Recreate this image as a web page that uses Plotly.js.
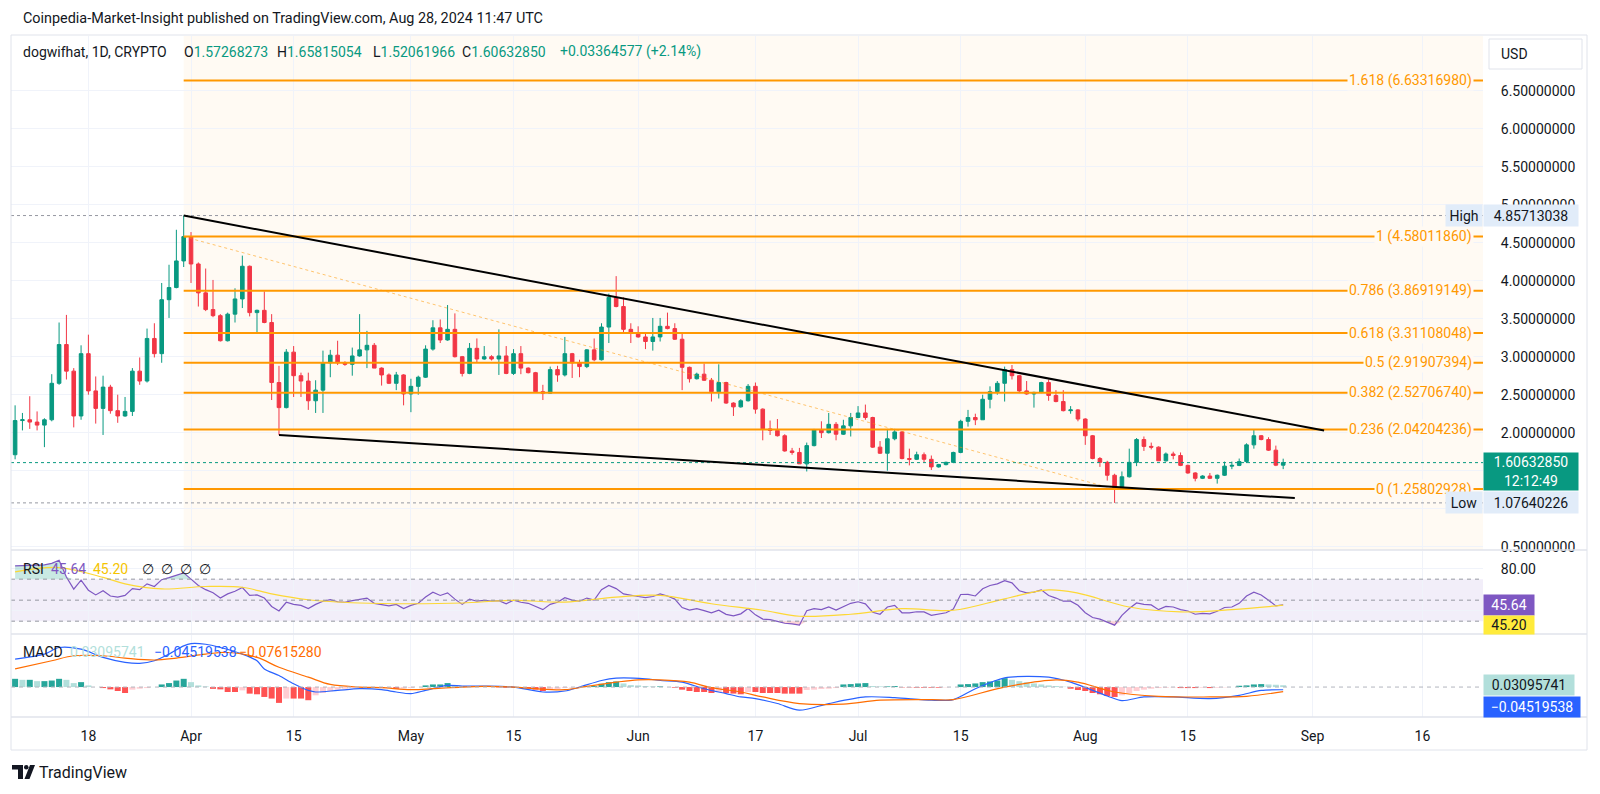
<!DOCTYPE html>
<html><head><meta charset="utf-8">
<script src="https://cdn.plot.ly/plotly-3.0.1.min.js"></script>
<style>html,body{margin:0;padding:0;background:#fff}#chart{width:1600px;height:794px}</style>
</head><body><div id="chart"></div>
<script>
// ---------------- DATA ----------------
const firstDay = [2024, 2, 8]; // 8 Mar 2024, daily bars to 28 Aug 2024
const openPrice = [
1.71,2.16,2.17,2.14,2.10,2.17,2.65,3.16,2.81,2.22,3.04,2.55,2.32,2.60,2.29,2.22,2.28,2.81,2.68,3.24,3.04,3.75,3.91,4.26,
4.58,4.22,3.84,3.62,3.54,3.21,3.56,3.76,4.19,3.58,3.61,3.45,2.66,2.33,3.06,2.75,2.68,2.42,2.56,2.92,3.02,2.92,2.90,3.01,3.09,3.15,2.85,2.76,2.65,2.76,
2.51,2.61,2.73,3.10,3.38,3.22,3.36,3.00,2.78,3.11,2.97,3.00,2.97,3.01,2.78,3.04,2.85,2.79,2.54,2.52,2.83,2.76,3.04,2.92,2.87,3.09,2.96,3.39,3.78,3.66,3.36,
3.31,3.26,3.20,3.26,3.40,3.37,3.23,2.86,2.71,2.77,2.69,2.54,2.66,2.39,2.34,2.42,2.61,2.31,2.05,2.03,1.96,1.76,1.74,1.59,1.83,2.04,2.00,2.11,1.98,2.09,
2.20,2.26,2.20,1.81,1.73,1.92,2.01,1.66,1.65,1.71,1.65,1.55,1.58,1.61,1.74,2.15,2.20,2.17,2.44,2.54,2.65,2.83,2.75,2.55,2.51,2.53,2.66,2.49,2.41,2.29,2.30,
2.18,1.96,1.66,1.61,1.44,1.27,1.42,1.61,1.91,1.82,1.81,1.63,1.72,1.70,1.57,1.47,1.40,1.43,1.40,1.44,1.56,1.57,1.62,1.84,1.96,1.91,1.77,1.57268273];
const highPrice = [
2.36,2.26,2.48,2.28,2.19,2.77,3.45,3.55,2.85,3.15,3.29,2.74,2.75,2.63,2.50,2.47,2.85,2.99,3.37,3.44,3.97,4.21,4.67,4.85713038,
4.64,4.24,4.16,4.01,3.56,3.58,3.90,4.33,4.20,3.62,3.86,3.56,2.88,3.10,3.14,2.79,2.79,2.69,3.08,3.09,3.21,2.94,3.12,3.56,3.34,3.18,2.86,2.78,2.80,2.77,
2.71,2.75,3.15,3.48,3.49,3.68,3.57,3.01,3.18,3.24,3.14,3.02,3.36,3.14,3.10,3.14,2.86,2.80,2.63,2.87,2.88,3.26,3.05,2.96,3.10,3.24,3.44,3.83,4.06,3.78,3.44,
3.40,3.30,3.51,3.51,3.58,3.44,3.30,2.87,2.79,2.91,2.72,2.90,2.67,2.40,2.44,2.64,2.66,2.32,2.16,2.18,1.98,1.80,1.80,1.87,2.05,2.15,2.26,2.14,2.17,2.26,
2.35,2.37,2.21,1.89,2.05,2.05,2.02,1.79,1.75,1.74,1.70,1.59,1.62,1.75,2.17,2.30,2.25,2.50,2.61,2.68,2.87,2.89,2.76,2.68,2.54,2.67,2.70,2.56,2.56,2.35,2.31,
2.19,1.97,1.68,1.63,1.46,1.49,1.79,1.93,1.95,1.87,1.82,1.74,1.75,1.74,1.58,1.48,1.44,1.47,1.45,1.62,1.62,1.66,1.86,2.04,1.97,1.94,1.83,1.65815054];
const lowPrice = [
1.65,2.03,2.05,2.03,1.81,2.15,2.63,2.70,2.07,2.17,2.50,2.12,1.97,2.25,2.13,2.21,2.22,2.63,2.66,2.99,2.92,3.51,3.90,4.18,
3.97,3.66,3.60,3.52,3.20,3.20,3.45,3.64,3.53,3.31,3.44,2.43,1.97,2.32,2.47,2.47,2.30,2.26,2.26,2.73,2.89,2.88,2.75,3.00,2.85,2.85,2.62,2.64,2.56,2.36,
2.27,2.50,2.72,3.08,3.18,3.21,2.99,2.74,2.77,2.93,2.96,2.95,2.76,2.77,2.76,2.77,2.78,2.53,2.43,2.51,2.67,2.74,2.72,2.73,2.85,2.94,2.95,3.18,3.65,3.32,3.18,
3.25,3.10,3.08,3.20,3.36,3.22,2.56,2.66,2.70,2.68,2.41,2.45,2.38,2.22,2.33,2.41,2.25,1.90,1.97,1.95,1.75,1.71,1.59,1.49,1.82,1.93,1.99,1.90,1.97,1.95,
2.19,2.17,1.80,1.72,1.50,1.90,1.65,1.57,1.64,1.61,1.51,1.54,1.57,1.60,1.73,2.08,2.10,2.17,2.32,2.50,2.41,2.70,2.52,2.50,2.33,2.52,2.42,2.40,2.28,2.25,2.15,
1.84,1.65,1.55,1.37,1.07640226,1.26,1.41,1.56,1.76,1.78,1.63,1.62,1.65,1.56,1.46,1.36,1.39,1.39,1.33,1.43,1.52,1.56,1.60,1.79,1.90,1.76,1.56,1.52061966];
const closePrice = [
2.16,2.17,2.14,2.10,2.17,2.65,3.16,2.81,2.22,3.04,2.55,2.32,2.60,2.29,2.22,2.28,2.81,2.68,3.24,3.04,3.75,3.91,4.26,4.58,
4.22,3.84,3.62,3.54,3.21,3.56,3.76,4.19,3.58,3.61,3.45,2.66,2.33,3.06,2.75,2.68,2.42,2.56,2.92,3.02,2.92,2.90,3.01,3.09,3.15,2.85,2.76,2.65,2.76,2.51,
2.61,2.73,3.10,3.38,3.22,3.36,3.00,2.78,3.11,2.97,3.00,2.97,3.01,2.78,3.04,2.85,2.79,2.54,2.52,2.83,2.76,3.04,2.92,2.87,3.09,2.96,3.39,3.78,3.66,3.36,3.31,
3.26,3.20,3.26,3.40,3.37,3.23,2.86,2.71,2.77,2.69,2.54,2.66,2.39,2.34,2.42,2.61,2.31,2.05,2.03,1.96,1.76,1.74,1.59,1.83,2.04,2.00,2.11,1.98,2.09,2.20,
2.26,2.20,1.81,1.73,1.92,2.01,1.66,1.65,1.71,1.65,1.55,1.58,1.61,1.74,2.15,2.20,2.17,2.44,2.54,2.65,2.83,2.75,2.55,2.51,2.53,2.66,2.49,2.41,2.29,2.30,2.18,
1.96,1.66,1.61,1.44,1.27,1.42,1.61,1.91,1.82,1.81,1.63,1.72,1.70,1.57,1.47,1.40,1.43,1.40,1.44,1.56,1.57,1.62,1.84,1.96,1.91,1.77,1.5727,1.60632850];

const rsiValues = [
82.7,83,83.5,84,83.6,85,88,72,60.5,69,59.5,55,59,54,53,54.5,61,60,65.5,63,69.5,71.5,74,76,
70,64,60,57,52,56,58.5,62,54.5,55,52,44,39.7,48,46,45,42,46,49,50.5,48.5,48,49.5,50.5,52,47,46,44.5,46,42,
45,47,53,57.6,54.5,57,51,46,51,49,49.8,49,49.5,46.5,50,48,47,44,41,46,48,52.3,50,49,52,50,60,64,61,56,54.5,
53.5,52.5,53.5,56,54,51,43,40.5,42,40,38,40.5,36.5,35,37,42,36,32,31.5,29.8,28,27.5,26.2,40,42,41,43.5,40.5,44,47,
48.5,46.5,38.5,36.6,43.5,45,38,38,39,38.8,35.6,36.5,38,41.5,55.4,55.5,54,60.8,64,65.5,68.6,66.5,59,57,57.6,59.8,54.5,52,49,49.1,45.1,
38,33.5,32,29,26.2,35.6,42,47.3,46,45.5,41,44,43.5,41,39.7,36.6,37.5,37,39.5,43,43.5,47,54,57.6,55,50,44.5,45.64];
const rsiMaBar = [0,6,12,15,20,26,31,35,40,47,54,61,68,75,82,88,95,102,107,114,121,128,135,141,145,152,159,166,173];
const rsiMaValues = [77,81,71.7,65.5,60.7,63,62.3,56,50.4,47.3,46.6,47.3,49.8,48.2,52.9,54.5,46.6,40.4,34.7,36.6,41.9,40.4,51.3,59.8,56.7,43.5,38.8,41,45.20];

const macdBar = [0,4,6,9,12,15,17,19,21,23,24,26,28,31,33,34,36,38,40,41,44,47,50,52,54,56,59,61,64,68,72,75,77,80,82,86,88,91,94,97,99,101,104,107,111,116,120,125,128,131,135,141,144,149,151,154,158,163,167,170,173];
const macdValues = [0.472,0.556,0.667,0.639,0.50,0.417,0.40,0.444,0.556,0.694,0.733,0.722,0.667,0.556,0.444,0.306,0.194,0.056,-0.056,-0.083,-0.056,-0.028,-0.044,-0.083,-0.111,-0.056,0.028,0.017,0.017,0,-0.083,-0.067,0,0.111,0.15,0.139,0.111,0.083,-0.028,-0.111,-0.167,-0.194,-0.278,-0.389,-0.278,-0.167,-0.178,-0.222,-0.211,-0.028,0.156,0.167,0.083,-0.15,-0.23,-0.167,-0.167,-0.194,-0.139,-0.056,-0.04519538];
const signalBar = [0,5,8,12,15,19,22,26,29,33,36,40,43,47,50,54,57,61,64,68,71,75,78,82,85,88,92,95,99,102,107,113,118,125,128,135,142,145,150,156,163,168,173];
const signalValues = [0.306,0.444,0.528,0.528,0.489,0.456,0.489,0.556,0.583,0.50,0.333,0.167,0.044,0,-0.011,-0.044,-0.028,0,0.011,0,-0.028,-0.044,0.011,0.083,0.122,0.122,0.083,-0.011,-0.083,-0.167,-0.278,-0.289,-0.222,-0.211,-0.211,0,0.122,0.083,-0.083,-0.156,-0.167,-0.156,-0.0761528];
const histValues = [
0.139,0.122,0.122,0.10,0.10,0.11,0.139,0.122,0.067,0.083,0.028,0.0,-0.017,-0.039,-0.067,-0.10,-0.044,-0.028,-0.017,0.0,0.044,0.067,0.11,0.139,
0.083,0.028,0.011,-0.03,-0.039,-0.083,-0.083,-0.056,-0.111,-0.122,-0.167,-0.194,-0.267,-0.194,-0.194,-0.194,-0.222,-0.139,-0.10,-0.072,-0.044,-0.028,-0.017,-0.011,0.0,-0.011,-0.017,-0.011,-0.028,-0.022,
-0.017,0.0,0.028,0.044,0.044,0.067,0.028,0.017,0.011,0.006,0.0,0.0,-0.006,-0.011,-0.006,0.0,-0.022,-0.044,-0.067,-0.044,-0.033,-0.017,-0.011,0.0,0.011,0.017,0.056,0.083,0.094,0.061,0.033,
0.028,0.017,0.011,0.011,0.0,-0.011,-0.044,-0.067,-0.083,-0.083,-0.10,-0.083,-0.10,-0.11,-0.122,-0.083,-0.083,-0.10,-0.10,-0.10,-0.111,-0.111,-0.111,-0.05,-0.044,-0.033,-0.028,-0.017,0.044,0.05,
0.061,0.067,0.017,0.011,0.011,0.017,-0.006,-0.006,-0.011,-0.011,-0.011,-0.011,-0.006,0.0,0.044,0.05,0.061,0.083,0.094,0.111,0.15,0.122,0.10,0.083,0.061,0.044,0.028,0.017,0.006,-0.028,-0.05,
-0.067,-0.10,-0.122,-0.15,-0.167,-0.139,-0.10,-0.067,-0.044,-0.028,-0.017,-0.011,-0.006,-0.017,-0.017,-0.017,-0.011,-0.017,-0.011,-0.006,0.0,0.022,0.028,0.044,0.05,0.044,0.039,0.03095741];

const fibRatios = ['0','0.236','0.382','0.5','0.618','0.786','1','1.618'];
const fibPrices = [1.25802928,2.04204236,2.52706740,2.91907394,3.31108048,3.86919149,4.58011860,6.63316980];
const fibStartDate = '2024-03-31';
const fibTrendDates = ['2024-03-31','2024-08-05'];
const fibTrendPrices = [4.58011860,1.25802928];
const upperTrendDates = ['2024-03-31','2024-09-02 14:00'];
const upperTrendPrices = [4.85713038,2.03];
const lowerTrendDates = ['2024-04-13','2024-08-29 14:00'];
const lowerTrendPrices = [1.97,1.14];
const highValue = 4.85713038, lowValue = 1.07640226;
const rsiLevels = [70,50,30];
const priceTicks = [0.5,1,1.5,2,2.5,3,3.5,4,4.5,5,5.5,6,6.5];
const hiddenPriceTicks = [1,1.5];      // covered by the Low / last-price boxes
const rsiTicks = [40,80];
const hiddenRsiTicks = [40];          // covered by the RSI value box
const xTickDates = ['2024-03-18','2024-04-01','2024-04-15','2024-05-01','2024-05-15','2024-06-01','2024-06-17','2024-07-01','2024-07-15','2024-08-01','2024-08-15','2024-09-01','2024-09-16'];
const xTickText = ['18','Apr','15','May','15','Jun','17','Jul','15','Aug','15','Sep','16'];
const symbolName = 'dogwifhat, 1D, CRYPTO';
const headerValues = {O:'1.57268273', H:'1.65815054', L:'1.52061966', C:'1.60632850'};
const headerChange = '+0.03364577 (+2.14%)';
const countdown = '12:12:49';

// ---------------- LAYOUT HELPERS ----------------
const dates = closePrice.map((_, i) => new Date(Date.UTC(firstDay[0], firstDay[1], firstDay[2] + i)).toISOString().slice(0, 10));
const L = 11, R = 1483, T = 36, B = 717;
const xp = px => (px - L) / (R - L);
const yp = py => (B - py) / (B - T);
const xRange = ['2024-03-07 10:34', '2024-09-24 06:15'];
const FONT = 'Roboto, "Liberation Sans", sans-serif';
const FS = 14;
const TXT = '#131722';
const GREEN = '#089981', RED = '#F23645';
const CREAM = '#FFFAF3';
const last = closePrice.length - 1;
const fmtMinus = v => (v < 0 ? '−' : '') + Math.abs(v).toFixed(8);

const histColors = histValues.map((h, i) => {
  const p = i > 0 ? histValues[i - 1] : h;
  if (h >= 0) return h >= p ? '#26A69A' : '#B2DFDB';
  return h <= p ? '#FF5252' : '#FFCDD2';
});
const noHover = {hoverinfo: 'skip', showlegend: false};

const traces = [
  Object.assign({type: 'candlestick', x: dates, open: openPrice, high: highPrice, low: lowPrice, close: closePrice,
   xaxis: 'x', yaxis: 'y', whiskerwidth: 0,
   increasing: {line: {color: GREEN, width: 1}, fillcolor: GREEN},
   decreasing: {line: {color: RED, width: 1}, fillcolor: RED}}, noHover),
  // overbought / oversold zone fills of the RSI (clip of the RSI line at the band edges)
  Object.assign({type: 'scatter', mode: 'lines', x: dates, y: dates.map(() => rsiLevels[0]), xaxis: 'x2', yaxis: 'y2', line: {width: 0}}, noHover),
  Object.assign({type: 'scatter', mode: 'lines', x: dates, y: rsiValues.map(v => Math.max(v, rsiLevels[0])), xaxis: 'x2', yaxis: 'y2',
   line: {width: 0}, fill: 'tonexty', fillcolor: 'rgba(8,153,129,0.22)'}, noHover),
  Object.assign({type: 'scatter', mode: 'lines', x: dates, y: dates.map(() => rsiLevels[2]), xaxis: 'x2', yaxis: 'y2', line: {width: 0}}, noHover),
  Object.assign({type: 'scatter', mode: 'lines', x: dates, y: rsiValues.map(v => Math.min(v, rsiLevels[2])), xaxis: 'x2', yaxis: 'y2',
   line: {width: 0}, fill: 'tonexty', fillcolor: 'rgba(242,54,69,0.22)'}, noHover),
  Object.assign({type: 'scatter', mode: 'lines', x: dates, y: rsiValues, xaxis: 'x2', yaxis: 'y2',
   line: {color: '#7E57C2', width: 1.2}}, noHover),
  Object.assign({type: 'scatter', mode: 'lines', x: rsiMaBar.map(i => dates[i]), y: rsiMaValues, xaxis: 'x2', yaxis: 'y2',
   line: {color: '#FDD835', width: 1.2, shape: 'spline', smoothing: 1}}, noHover),
  Object.assign({type: 'bar', x: dates, y: histValues, xaxis: 'x3', yaxis: 'y3', marker: {color: histColors, line: {width: 0}}}, noHover),
  Object.assign({type: 'scatter', mode: 'lines', x: macdBar.map(i => dates[i]), y: macdValues, xaxis: 'x3', yaxis: 'y3',
   line: {color: '#2962FF', width: 1.2, shape: 'spline', smoothing: 0.8}}, noHover),
  Object.assign({type: 'scatter', mode: 'lines', x: signalBar.map(i => dates[i]), y: signalValues, xaxis: 'x3', yaxis: 'y3',
   line: {color: '#FF6D00', width: 1.2, shape: 'spline', smoothing: 1}}, noHover)
];

const shapes = [];
shapes.push({type: 'rect', xref: 'x', yref: 'y domain', x0: fibStartDate, x1: xRange[1], y0: 0, y1: 1,
  fillcolor: CREAM, line: {width: 0}, layer: 'below'});
shapes.push({type: 'line', xref: 'paper', yref: 'y', x0: 0, x1: 1, y0: highValue, y1: highValue, line: {color: '#9598A1', width: 1, dash: 'dot'}});
shapes.push({type: 'line', xref: 'paper', yref: 'y', x0: 0, x1: 1, y0: lowValue, y1: lowValue, line: {color: '#9598A1', width: 1, dash: 'dot'}});
shapes.push({type: 'line', xref: 'paper', yref: 'y', x0: 0, x1: 1, y0: closePrice[last], y1: closePrice[last], line: {color: GREEN, width: 1, dash: 'dot'}});
fibPrices.forEach(p => shapes.push({type: 'line', xref: 'x', yref: 'y', x0: fibStartDate, x1: xRange[1], y0: p, y1: p,
  line: {color: '#FF9800', width: 2}}));
shapes.push({type: 'line', xref: 'x', yref: 'y', x0: fibTrendDates[0], x1: fibTrendDates[1], y0: fibTrendPrices[0], y1: fibTrendPrices[1],
  line: {color: 'rgba(255,152,0,0.55)', width: 1, dash: 'dot'}});
shapes.push({type: 'line', xref: 'x', yref: 'y', x0: upperTrendDates[0], x1: upperTrendDates[1], y0: upperTrendPrices[0], y1: upperTrendPrices[1],
  line: {color: '#000000', width: 2}});
shapes.push({type: 'line', xref: 'x', yref: 'y', x0: lowerTrendDates[0], x1: lowerTrendDates[1], y0: lowerTrendPrices[0], y1: lowerTrendPrices[1],
  line: {color: '#000000', width: 2}});
shapes.push({type: 'rect', xref: 'paper', yref: 'y2', x0: 0, x1: 1, y0: rsiLevels[2], y1: rsiLevels[0],
  fillcolor: 'rgba(126,87,194,0.1)', line: {width: 0}, layer: 'below'});
rsiLevels.forEach(v => shapes.push({type: 'line', xref: 'paper', yref: 'y2', x0: 0, x1: 1, y0: v, y1: v,
  line: {color: '#9598A1', width: 1, dash: '4px,4px'}}));
shapes.push({type: 'line', xref: 'paper', yref: 'y3', x0: 0, x1: 1, y0: 0, y1: 0, line: {color: '#B2B5BE', width: 1, dash: '4px,4px'}});
const frameR = xp(1587);
shapes.push({type: 'rect', xref: 'paper', yref: 'paper', x0: xp(11), x1: frameR, y0: yp(750), y1: yp(35), line: {color: '#E0E3EB', width: 1}});
[550, 634, 717].forEach(py => shapes.push({type: 'line', xref: 'paper', yref: 'paper', x0: xp(11), x1: frameR, y0: yp(py), y1: yp(py),
  line: {color: '#E0E3EB', width: 1.5}}));
shapes.push({type: 'rect', xref: 'paper', yref: 'paper', x0: xp(1489), x1: xp(1582), y0: yp(69), y1: yp(39), fillcolor: '#FFFFFF', line: {color: '#E0E3EB', width: 1}});
const P = (x, y) => xp(x).toFixed(5) + ',' + yp(y).toFixed(5);
shapes.push({type: 'path', xref: 'paper', yref: 'paper', path: `M${P(12,765)} L${P(23,765)} L${P(23,779)} L${P(18,779)} L${P(18,769.5)} L${P(12,769.5)} Z`, fillcolor: '#131722', line: {width: 0}});
shapes.push({type: 'circle', xref: 'paper', yref: 'paper', x0: xp(24), x1: xp(28.5), y0: yp(769.5), y1: yp(765), fillcolor: '#131722', line: {width: 0}});
shapes.push({type: 'path', xref: 'paper', yref: 'paper', path: `M${P(30,765)} L${P(35,765)} L${P(29.5,779)} L${P(24.5,779)} Z`, fillcolor: '#131722', line: {width: 0}});

const ann = [];
const A = o => ann.push(Object.assign({showarrow: false, font: {family: FONT, size: FS, color: TXT}}, o));
const span = (c, t) => `<span style="color:${c}">${t}</span>`;
const txtAt = (px, py, text, color, size) => A({xref: 'paper', yref: 'paper', x: xp(px), y: yp(py), xanchor: 'left', yanchor: 'middle',
  text: text, font: {family: FONT, size: size || FS, color: color || TXT}});

txtAt(21, 18, 'Coinpedia-Market-Insight published on TradingView.com, Aug 28, 2024 11:47 UTC', TXT, 14.4);
txtAt(21, 52, symbolName);
[['O', 182], ['H', 275], ['L', 371], ['C', 460]].forEach(([k, px]) => txtAt(px, 52, k + span(GREEN, headerValues[k])));
txtAt(558, 52, headerChange, GREEN);
txtAt(21, 569, 'RSI');
txtAt(49, 569, rsiValues[last].toFixed(2), '#7E57C2');
txtAt(91, 569, rsiMaValues[rsiMaValues.length - 1].toFixed(2), '#F5C400');
[140, 159, 178, 197].forEach(px => txtAt(px, 569, '∅'));
txtAt(21, 652, 'MACD');
txtAt(68, 652, histValues[last].toFixed(8), '#B2DFDB');
txtAt(152, 652, fmtMinus(macdValues[macdValues.length - 1]), '#2962FF');
txtAt(237, 652, fmtMinus(signalValues[signalValues.length - 1]), '#FF6D00');
fibPrices.forEach((p, i) => A({xref: 'paper', yref: 'y', x: xp(1474), y: p, xanchor: 'right', yanchor: 'middle',
   text: fibRatios[i] + ' (' + p.toFixed(8) + ')', bgcolor: CREAM, borderpad: 1, font: {family: FONT, size: FS, color: '#FF9800'}}));
[[highValue, 'High'], [lowValue, 'Low']].forEach(([v, t]) => {
  A({xref: 'paper', yref: 'y', x: 1, y: v, xanchor: 'right', yanchor: 'middle', text: t, bgcolor: '#E1ECF9', borderpad: 1, width: 34, height: 19});
  A({xref: 'paper', yref: 'y', x: 1, y: v, xanchor: 'left', yanchor: 'middle', text: v.toFixed(8), bgcolor: '#E1ECF9', borderpad: 1, width: 92, height: 19});
});
A({xref: 'paper', yref: 'y', x: 1, y: closePrice[last], xanchor: 'left', yanchor: 'middle', yshift: -8.5,
   text: closePrice[last].toFixed(8) + '<br>' + countdown, bgcolor: GREEN, borderpad: 1, width: 92, height: 35,
   font: {family: FONT, size: FS, color: '#FFFFFF'}});
txtAt(1499, 54, 'USD');
A({xref: 'paper', yref: 'y2', x: 1, y: rsiValues[last], xanchor: 'left', yanchor: 'middle', text: rsiValues[last].toFixed(2),
   bgcolor: '#7E57C2', borderpad: 1, width: 48, height: 18, font: {family: FONT, size: FS, color: '#FFFFFF'}});
A({xref: 'paper', yref: 'y2', x: 1, y: rsiMaValues[rsiMaValues.length - 1], xanchor: 'left', yanchor: 'middle', yshift: -20,
   text: rsiMaValues[rsiMaValues.length - 1].toFixed(2), bgcolor: '#FFEB3B', borderpad: 1, width: 48, height: 16, font: {family: FONT, size: FS, color: TXT}});
A({xref: 'paper', yref: 'y3', x: 1, y: histValues[last], xanchor: 'left', yanchor: 'middle', text: histValues[last].toFixed(8),
   bgcolor: '#B2DFDB', borderpad: 1, width: 88, height: 18});
A({xref: 'paper', yref: 'y3', x: 1, y: macdValues[macdValues.length - 1], xanchor: 'left', yanchor: 'middle', yshift: -17,
   text: fmtMinus(macdValues[macdValues.length - 1]), bgcolor: '#2962FF', borderpad: 1, width: 94, height: 18,
   font: {family: FONT, size: FS, color: '#FFFFFF'}});
txtAt(37, 772, 'TradingView', TXT, 16);

const xBase = {type: 'date', range: xRange, tickvals: xTickDates, ticktext: xTickText, showgrid: true, gridcolor: '#F0F3FA',
  zeroline: false, showline: false, fixedrange: true, rangeslider: {visible: false}};
const tickFont = {family: FONT, size: FS, color: TXT};
const layout = {
  width: 1600, height: 794, margin: {l: L, r: 1600 - R, t: T, b: 794 - B},
  paper_bgcolor: '#FFFFFF', plot_bgcolor: 'rgba(0,0,0,0)', showlegend: false, bargap: 0.18,
  font: {family: FONT, color: TXT},
  xaxis: Object.assign({}, xBase, {anchor: 'y', showticklabels: false}),
  xaxis2: Object.assign({}, xBase, {anchor: 'y2', showticklabels: false}),
  xaxis3: Object.assign({}, xBase, {anchor: 'y3', showticklabels: true, ticks: 'outside', ticklen: 6, tickcolor: 'rgba(0,0,0,0)', tickfont: tickFont}),
  yaxis: {domain: [yp(550), 1], range: [(584.7 - 550) / 76, (584.7 - T) / 76], side: 'right', anchor: 'x', tickvals: priceTicks,
    ticktext: priceTicks.map(v => hiddenPriceTicks.includes(v) ? '' : v.toFixed(8)),
    showgrid: true, gridcolor: '#F0F3FA', zeroline: false, ticks: 'outside', ticklen: 14, tickcolor: 'rgba(0,0,0,0)',
    tickfont: tickFont, fixedrange: true},
  yaxis2: {domain: [yp(634), yp(551)], range: [17.8, 96.8], side: 'right', anchor: 'x2', tickvals: rsiTicks,
    ticktext: rsiTicks.map(v => hiddenRsiTicks.includes(v) ? '' : v.toFixed(2)),
    showgrid: true, gridcolor: '#F0F3FA', zeroline: false, ticks: 'outside', ticklen: 14, tickcolor: 'rgba(0,0,0,0)',
    tickfont: tickFont, fixedrange: true},
  yaxis3: {domain: [0, yp(635)], range: [-0.505, 0.878], side: 'right', anchor: 'x3', showticklabels: false, showgrid: false,
    zeroline: false, fixedrange: true},
  shapes: shapes, annotations: ann
};
Plotly.newPlot('chart', traces, layout, {staticPlot: true, displayModeBar: false});
</script></body></html>
